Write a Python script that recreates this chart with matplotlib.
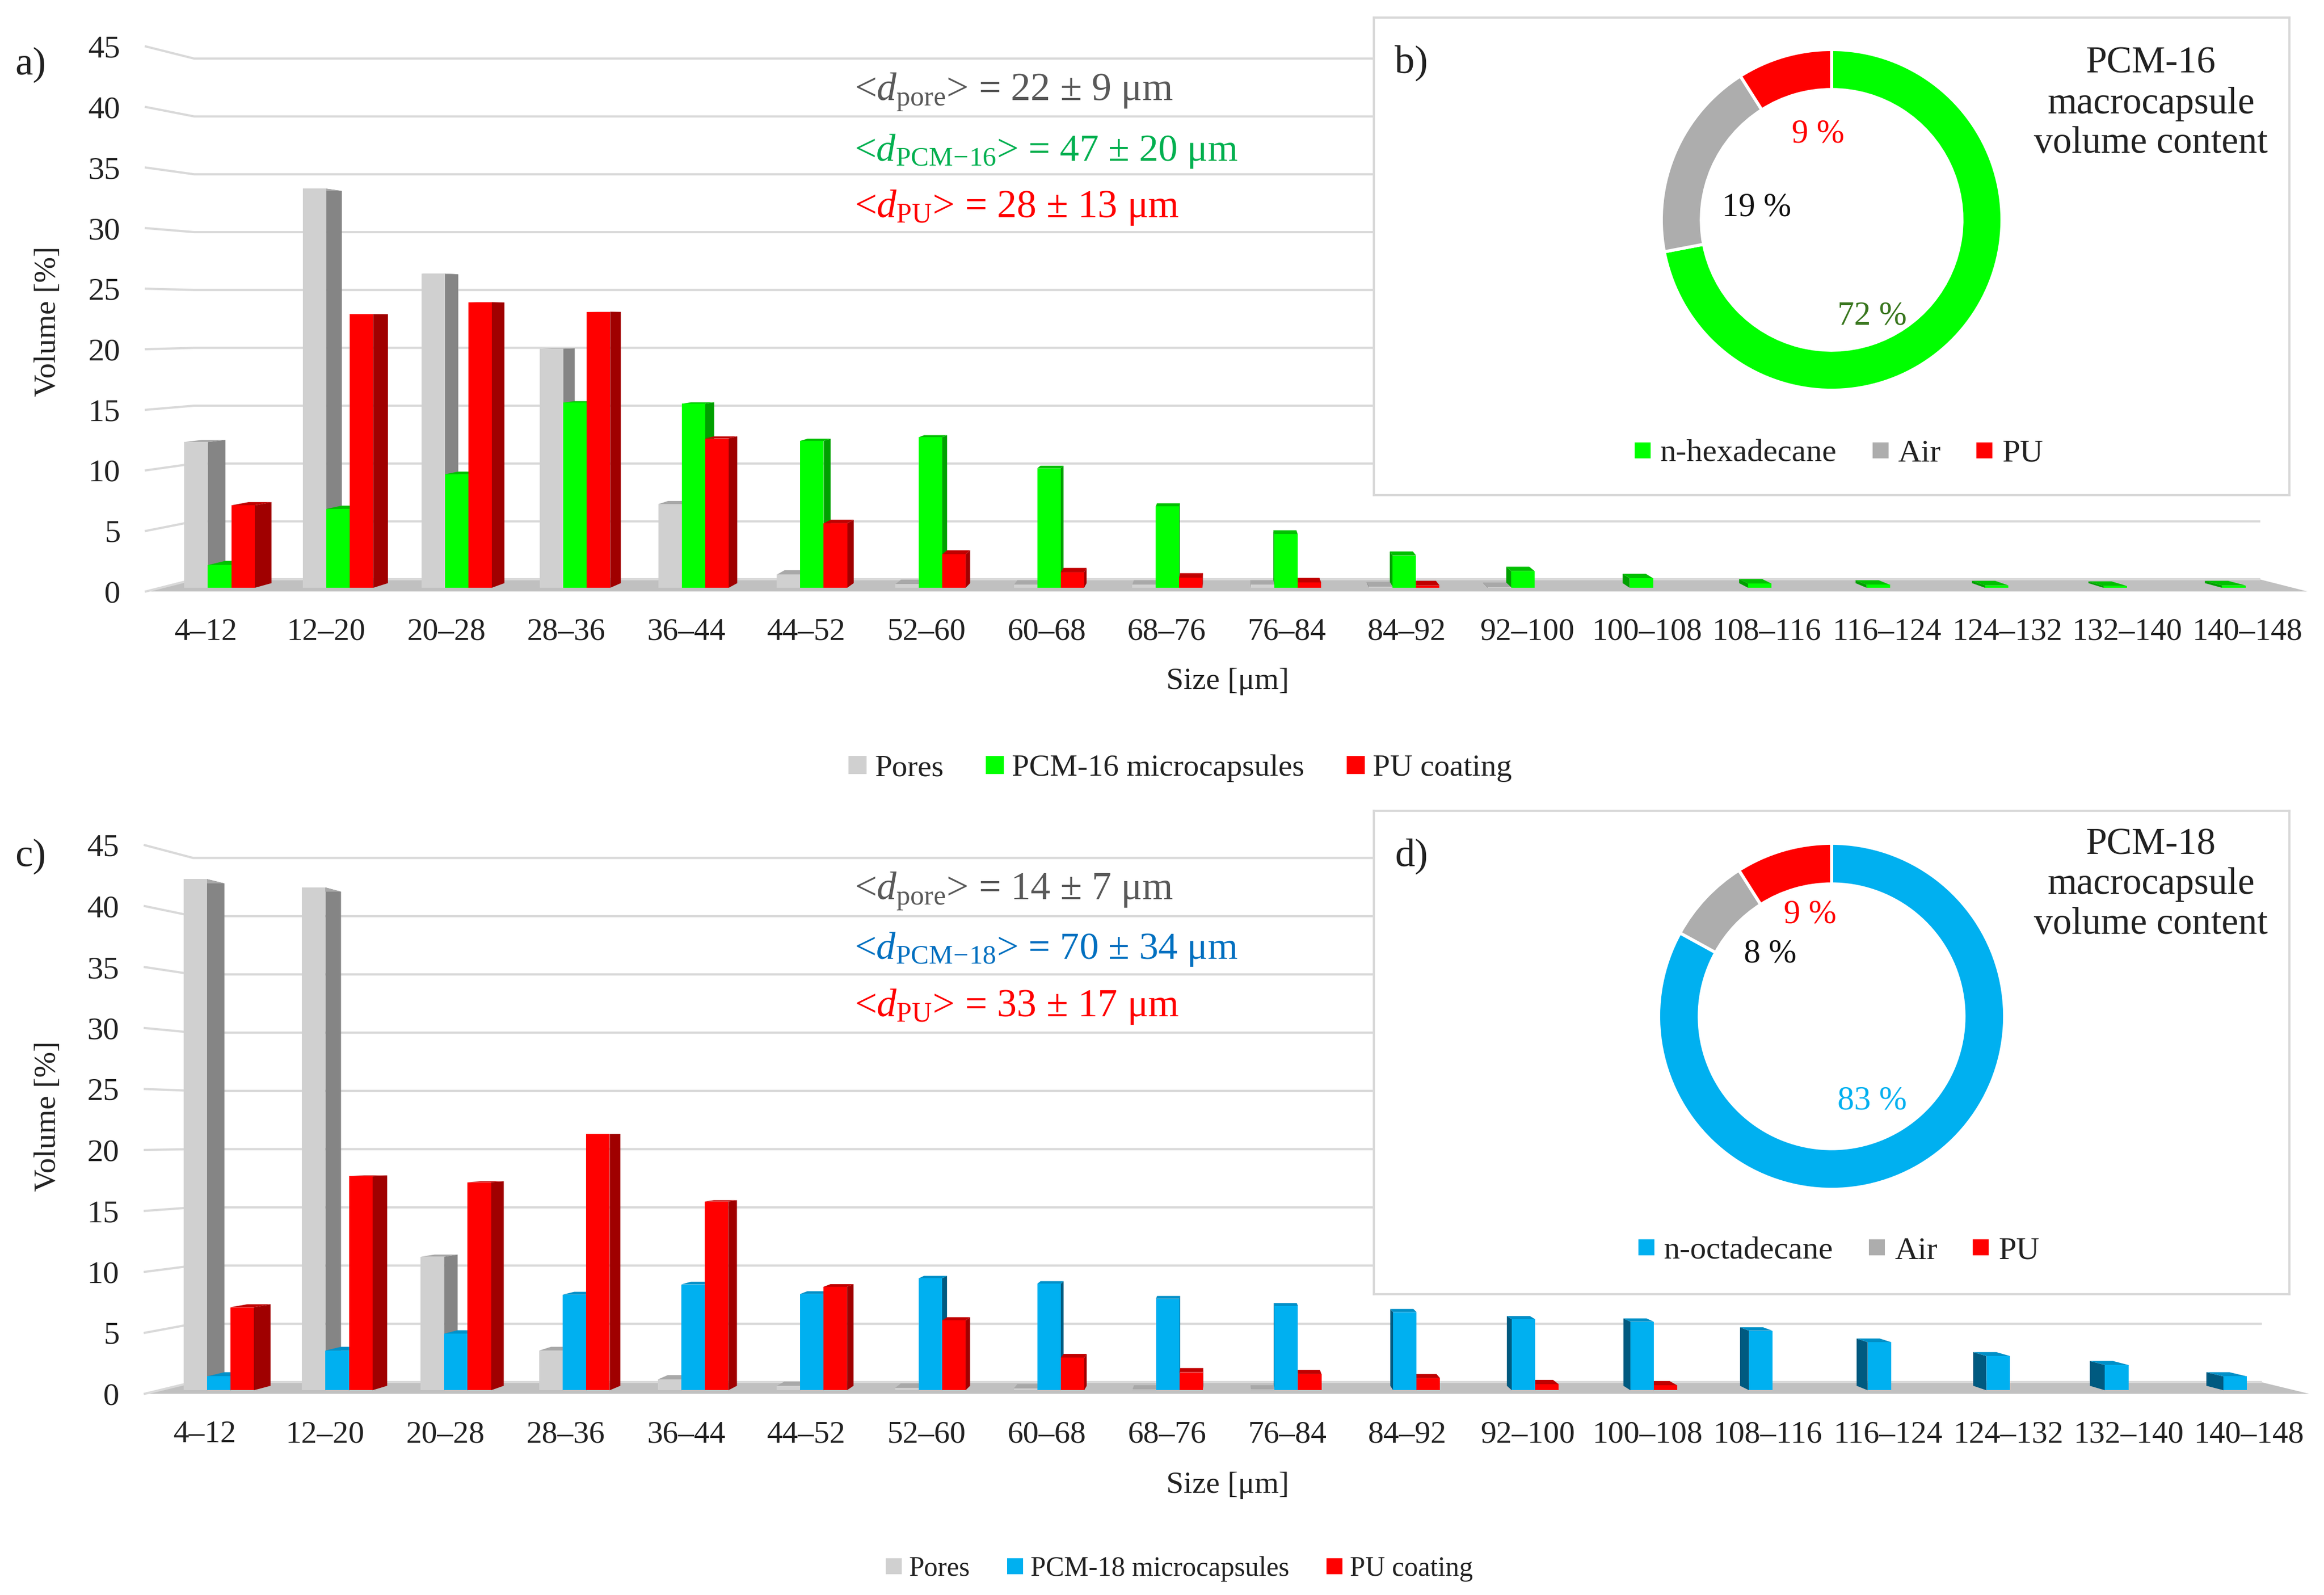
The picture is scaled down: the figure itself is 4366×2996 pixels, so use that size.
import matplotlib
matplotlib.use('Agg')
import matplotlib.pyplot as plt
from matplotlib.lines import Line2D

plt.rcParams['font.family'] = ['Liberation Serif', 'DejaVu Serif']
plt.rcParams['mathtext.fontset'] = 'custom'
plt.rcParams['mathtext.rm'] = 'Liberation Serif'
plt.rcParams['mathtext.it'] = 'Liberation Serif:italic'

W, H = 4366, 2996
DPI = 300

# Data
sizes = ['4–12', '12–20', '20–28', '28–36', '36–44', '44–52', '52–60', '60–68', '68–76',
         '76–84', '84–92', '92–100', '100–108', '108–116', '116–124', '124–132', '132–140', '140–148']
yticks = [0, 5, 10, 15, 20, 25, 30, 35, 40, 45]

pores_16 = [12.2, 33.4, 26.3, 20.0, 7.0, 1.1, 0.3, 0.25, 0.25, 0.25, 0.1, 0.05, 0, 0, 0, 0, 0, 0]
pcm_16 = [1.9, 6.6, 9.5, 15.5, 15.4, 12.3, 12.6, 10.0, 6.8, 4.5, 2.7, 1.4, 0.8, 0.35, 0.25, 0.2, 0.15, 0.2]
pu_16 = [6.9, 22.9, 23.9, 23.1, 12.5, 5.4, 2.8, 1.3, 0.85, 0.45, 0.2, 0, 0, 0, 0, 0, 0, 0]

pores_18 = [42.5, 41.8, 11.1, 3.3, 0.9, 0.35, 0.2, 0.15, 0.05, 0.05, 0, 0, 0, 0, 0, 0, 0, 0]
pcm_18 = [1.15, 3.3, 4.7, 7.95, 8.8, 8.0, 9.3, 8.85, 7.6, 7.0, 6.5, 5.9, 5.7, 4.95, 4.0, 2.85, 2.1, 1.15]
pu_18 = [6.9, 17.8, 17.3, 21.3, 15.7, 8.6, 5.8, 2.7, 1.5, 1.35, 1.0, 0.5, 0.4, 0, 0, 0, 0, 0]

content_16 = [72, 19, 9]
content_18 = [83, 8, 9]

GREY = ('#D0D0D0', '#858585', '#A8A8A8')
GREEN = ('#00FF00', '#00A000', '#00C000')
BLUE = ('#00B0F0', '#005A80', '#0090C8')
RED = ('#FF0000', '#A00000', '#C00000')
GRID = '#D9D9D9'
FLOOR = '#C0C0C0'
BAR_W = 0.198


def fx(x):
    return x / W


def fy(y):
    return 1 - y / H


def project(x, y, t, vy):
    # moves a point of the front plane towards the vanishing point
    return x + t * (8.5 - x), y + t * (vy - y)


def bar3d(ax, x, value, colors, t0, t1, vy):
    left, right = x - BAR_W / 2, x + BAR_W / 2
    edge = right if x < 8.5 else left
    base = project(edge, 0, t0, vy)
    top = project(edge, value, t0, vy)
    base2 = project(edge, 0, t1, vy)
    top2 = project(edge, value, t1, vy)
    ax.fill([base[0], top[0], top2[0], base2[0]], [base[1], top[1], top2[1], base2[1]],
            color=colors[1], lw=0, zorder=3)
    a = project(left, value, t0, vy)
    b = project(right, value, t0, vy)
    c = project(right, value, t1, vy)
    d = project(left, value, t1, vy)
    ax.fill([a[0], b[0], c[0], d[0]], [a[1], b[1], c[1], d[1]], color=colors[2], lw=0, zorder=3)
    y0 = project(left, 0, t0, vy)
    ax.bar(y0[0], a[1] - y0[1], b[0] - a[0], bottom=y0[1], align='edge', color=colors[0], lw=0, zorder=3)


def chart(series, left, right, bottom, scale, tw, vy):
    rect = [fx(left), fy(bottom), (right - left) / W, 45 * scale / H]
    ax = fig.add_axes(rect, zorder=1, facecolor='none')
    ax.set_xlim(-0.5, 17.5)
    ax.set_ylim(0, 45)
    for side in ax.spines.values():
        side.set_visible(False)
    ax.set_xticks(range(len(sizes)))
    ax.set_xticklabels(sizes, fontsize=14.2, color='#222222')
    ax.set_yticks(yticks)
    ax.tick_params(axis='both', length=0, labelcolor='#222222')
    ax.tick_params(axis='y', labelsize=14.5, pad=11.5)
    ax.tick_params(axis='x', pad=12)

    # floor and walls
    corners = [project(-0.5, 0, 0, vy), project(17.5, 0, 0, vy), project(17.5, 0, tw, vy), project(-0.5, 0, tw, vy)]
    ax.fill([c[0] for c in corners], [c[1] for c in corners], color=FLOOR, lw=0, zorder=1, clip_on=False)
    for v in yticks:
        a = project(-0.5, v, 0, vy)
        b = project(-0.5, v, tw, vy)
        c = project(17.5, v, tw, vy)
        ax.plot([a[0], b[0], c[0]], [a[1], b[1], c[1]], color=GRID, lw=1.0, zorder=2, clip_on=False)

    t0 = 0.3 * tw
    t1 = 0.68 * tw
    for i in range(len(sizes)):
        group = [(i - BAR_W, series[0][0][i], series[0][1]),
                 (i, series[1][0][i], series[1][1]),
                 (i + BAR_W, series[2][0][i], series[2][1])]
        # the outer bar goes first, the inner one covers its side
        group.sort(key=lambda item: -abs(item[0] - 8.5))
        for x, value, colors in group:
            if value > 0:
                bar3d(ax, x, value, colors, t0, t1, vy)
    return ax


def panel(x0, y0, x1, y1):
    ax = fig.add_axes([fx(x0), fy(y1), (x1 - x0) / W, (y1 - y0) / H], zorder=2, facecolor='white')
    ax.set_xticks([])
    ax.set_yticks([])
    for side in ax.spines.values():
        side.set_color(GRID)
        side.set_linewidth(1.0)


def donut(values, colors, cx, cy, radius, ring):
    ax = fig.add_axes([fx(cx - radius), fy(cy + radius), 2 * radius / W, 2 * radius / H], zorder=3, facecolor='none')
    ax.pie(values, colors=colors, startangle=90, counterclock=False, radius=1,
           wedgeprops={'width': ring, 'edgecolor': 'white', 'linewidth': 1.4})
    ax.set_xlim(-1, 1)
    ax.set_ylim(-1, 1)


def text(x, y, s, size, color='#222222', ha='center', **kw):
    fig.text(fx(x), fy(y + 5), s, fontsize=size, color=color, ha=ha, va='center', zorder=6, **kw)


def legend(labels, colors, x, y, size, marker, spacing):
    handles = [Line2D([], [], ls='none', marker='s', markersize=marker, color=c, mew=0) for c in colors]
    leg = fig.legend(handles, labels, loc='center', bbox_to_anchor=(fx(x), fy(y)), ncol=len(labels), frameon=False,
                     fontsize=size, handlelength=0.6, handletextpad=0.25, columnspacing=spacing, labelcolor='#222222')
    leg.set_zorder(6)


fig = plt.figure(figsize=(W / DPI, H / DPI), dpi=DPI, facecolor='white')

chart([(pores_16, GREY), (pcm_16, GREEN), (pu_16, RED)], 274, 4335, 1111, 22.75, 0.0447, 22.6)
chart([(pores_18, GREY), (pcm_18, BLUE), (pu_18, RED)], 272, 4338, 2618, 22.9, 0.0447, 21.5)

panel(2581, 33, 4301, 930)
panel(2581, 1523, 4301, 2431)
donut(content_16, ['#00FF00', '#ADADAD', '#FF0000'], 3441, 413, 320, 0.235)
donut(content_18, ['#00B0F0', '#ADADAD', '#FF0000'], 3441, 1909, 325, 0.235)

# axis titles
text(90, 599, 'Volume [%]', 14, rotation=90)
text(90, 2092, 'Volume [%]', 14, rotation=90)
text(2306, 1275, 'Size [μm]', 14)
text(2306, 2785, 'Size [μm]', 14)

# panel letters
text(28, 117, 'a)', 18, ha='left')
text(28, 1604, 'c)', 18, ha='left')
text(2620, 113, 'b)', 18, ha='left')
text(2620, 1603, 'd)', 18, ha='left')

# mean sizes
text(1605, 167, r'<$\mathit{d}_{\mathrm{pore}}$> = 22 ± 9 μm', 17.8, color='#595959', ha='left')
text(1605, 279, r'<$\mathit{d}_{\mathrm{PCM\!-\!16}}$> = 47 ± 20 μm', 17.4, color='#00B050', ha='left')
text(1605, 385, r'<$\mathit{d}_{\mathrm{PU}}$> = 28 ± 13 μm', 17.8, color='#FF0000', ha='left')
text(1605, 1668, r'<$\mathit{d}_{\mathrm{pore}}$> = 14 ± 7 μm', 17.8, color='#595959', ha='left')
text(1605, 1778, r'<$\mathit{d}_{\mathrm{PCM\!-\!18}}$> = 70 ± 34 μm', 17.4, color='#0070C0', ha='left')
text(1605, 1886, r'<$\mathit{d}_{\mathrm{PU}}$> = 33 ± 17 μm', 17.8, color='#FF0000', ha='left')

# donut titles
for y, line in zip([114, 190, 265], ['PCM-16', 'macrocapsule', 'volume content']):
    text(4041, y, line, 17)
for y, line in zip([1582, 1657, 1732], ['PCM-18', 'macrocapsule', 'volume content']):
    text(4041, y, line, 17)

# donut labels
text(3415, 248, '9 %', 15, color='#FF0000')
text(3300, 385, '19 %', 15, color='#111111')
text(3517, 590, '72 %', 15, color='#38761D')
text(3400, 1713, '9 %', 15, color='#FF0000')
text(3325, 1788, '8 %', 15, color='#111111')
text(3517, 2064, '83 %', 15, color='#00B0F0')

legend(['Pores', 'PCM-16 microcapsules', 'PU coating'], ['#D0D0D0', '#00FF00', '#FF0000'], 2217, 1443, 14.0, 8, 1.35)
legend(['Pores', 'PCM-18 microcapsules', 'PU coating'], ['#D0D0D0', '#00B0F0', '#FF0000'], 2215, 2947, 12.4, 7, 1.35)
legend(['n-hexadecane', 'Air', 'PU'], ['#00FF00', '#ADADAD', '#FF0000'], 3453, 852, 14.5, 7, 1.05)
legend(['n-octadecane', 'Air', 'PU'], ['#00B0F0', '#ADADAD', '#FF0000'], 3453, 2350, 14.5, 7, 1.05)

fig.savefig('out.png', dpi=DPI)
